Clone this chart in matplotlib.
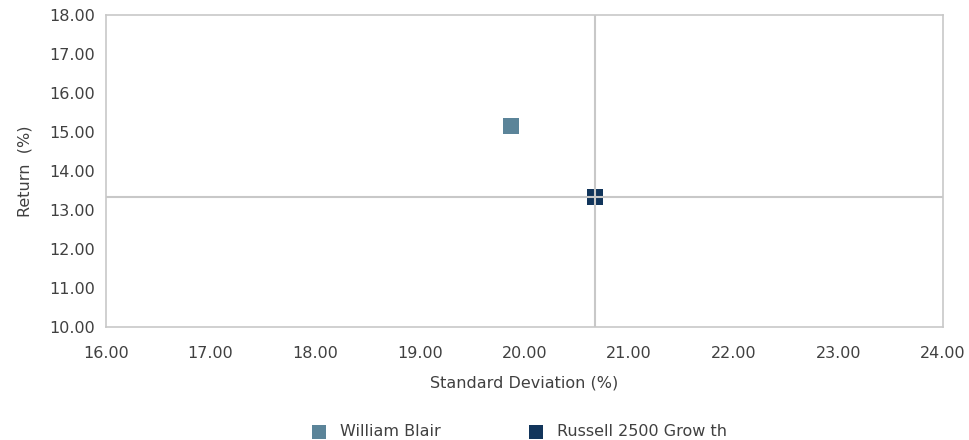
import matplotlib
matplotlib.use("Agg")
import matplotlib.pyplot as plt

names = ["William Blair", "Russell 2500 Grow th"]
std_dev = [19.87, 20.67]
returns = [15.15, 13.33]
colors = ["#5b8499", "#12355b"]

plt.rcParams['font.family'] = ['DejaVu Sans']
txt = "#404040"
grid_c = "#c8c8c8"

fig = plt.figure(figsize=(9.7, 4.4), dpi=100)
ax = fig.add_axes([0.1093, 0.257, 0.8627, 0.709])

for n, x, y, c in zip(names, std_dev, returns, colors):
    ax.scatter(x, y, marker='s', s=130, color=c, label=n, zorder=2, linewidths=0)

# crosshair at benchmark, drawn on top of the markers
ax.axvline(std_dev[1], color=grid_c, lw=1.5, zorder=3)
ax.axhline(returns[1], color=grid_c, lw=1.5, zorder=3)

ax.set_xlim(16, 24)
ax.set_ylim(10, 18)
ax.set_xticks(range(16, 25))
ax.set_yticks(range(10, 19))
ax.set_xticklabels(["%.2f" % v for v in range(16, 25)])
ax.set_yticklabels(["%.2f" % v for v in range(10, 19)])
ax.tick_params(length=0, labelsize=11.5, colors=txt)
ax.tick_params(axis='x', pad=14)
ax.tick_params(axis='y', pad=8)
for s in ax.spines.values():
    s.set_color(grid_c)
    s.set_linewidth(1.2)

ax.set_xlabel("Standard Deviation (%)", fontsize=11.5, color=txt, labelpad=10)
ax.set_ylabel("Return  (%)", fontsize=11.5, color=txt, labelpad=12)

fig.legend(loc='lower center', bbox_to_anchor=(0.531, -0.03), ncol=2, frameon=False,
           fontsize=11.5, labelcolor=txt, columnspacing=5, handletextpad=0.3,
           scatterpoints=1, markerscale=0.85)

fig.savefig("out.png", dpi=100)
